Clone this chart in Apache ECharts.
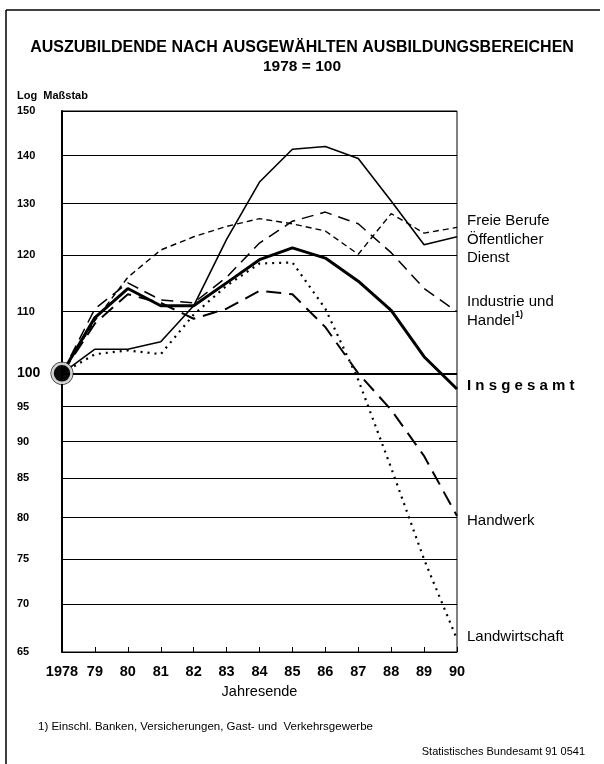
<!DOCTYPE html>
<html>
<head>
<meta charset="utf-8">
<script src="https://cdn.jsdelivr.net/npm/echarts@6.0.0/dist/echarts.min.js"></script>
<style>
  html, body { margin: 0; padding: 0; background: #fff; }
  #main { width: 604px; height: 764px; }
</style>
</head>
<body>
<div id="main"></div>
<script>
// Jahresende 1978..1990, Index 1978 = 100 (log. Maßstab)
const years = ['1978', '79', '80', '81', '82', '83', '84', '85', '86', '87', '88', '89', '90'];
const yTicks = [65, 70, 75, 80, 85, 90, 95, 100, 110, 120, 130, 140, 150];
const baseValue = 100;

const insgesamt = [100, 109, 114, 111, 111, 115, 119.2, 121.4, 119.5, 115.3, 110.2, 102.6, 97.6];
const freieBerufe = [100, 108.5, 116, 121, 123.5, 125.5, 127, 126, 124.6, 120.2, 128, 124.2, 125.3];
const oeffDienst = [100, 103.8, 103.8, 105, 111, 123, 134.4, 141.4, 142, 139.4, 130.5, 122, 123.5];
const industrieHandel = [100, 110.5, 115, 112, 111.5, 116, 122.3, 126.5, 128.3, 126, 120.5, 114, 110];
const handwerk = [100, 108, 113, 111.5, 108.8, 110.5, 113.6, 113, 107.4, 100, 94.5, 88, 80.2];
const landwirtschaft = [100, 103, 103.6, 103, 109.5, 114.5, 118.5, 118.7, 110.5, 99, 86.4, 75, 66.3];

const FONT = 'Liberation Sans, Arial, sans-serif';

let chart = echarts.init(document.getElementById('main'));

const lineSeries = (name, data, width, type) => ({
  name: name,
  type: 'line',
  data: data,
  symbol: 'none',
  lineStyle: { color: '#000', width: width, type: type },
  z: 3
});

// Beschriftung rechts neben dem Diagramm
const rightLabel = (text, y, x, extra) => ({
  type: 'text',
  x: x,
  y: y,
  style: Object.assign({
    text: text,
    fontFamily: FONT,
    fontSize: 15,
    fill: '#000',
    verticalAlign: 'middle'
  }, extra || {})
});

let option = {
  animation: false,
  backgroundColor: '#fff',
  title: [
    {
      text: 'AUSZUBILDENDE NACH AUSGEWÄHLTEN AUSBILDUNGSBEREICHEN',
      left: 'center',
      top: 35,
      textStyle: { fontFamily: FONT, fontSize: 16, fontWeight: 'bold', color: '#000' }
    },
    {
      text: '1978 = 100',
      left: 'center',
      top: 54,
      textStyle: { fontFamily: FONT, fontSize: 15.5, fontWeight: 'bold', color: '#000' }
    }
  ],
  grid: {
    left: 62, right: 147, top: 111, bottom: 112,
    show: true, borderColor: '#000', borderWidth: 1
  },
  xAxis: {
    type: 'category',
    data: years,
    boundaryGap: false,
    axisLine: { show: true, lineStyle: { color: '#000', width: 1 } },
    axisTick: { show: true, inside: true, length: 5, interval: 0, lineStyle: { color: '#000' } },
    axisLabel: {
      color: '#000', fontFamily: FONT, fontSize: 14.5, fontWeight: 'bold', margin: 12,
      interval: 0, hideOverlap: false
    },
    splitLine: { show: false },
    name: 'Jahresende',
    nameLocation: 'middle',
    nameGap: 32,
    nameTextStyle: { color: '#000', fontFamily: FONT, fontSize: 14.5 }
  },
  yAxis: {
    type: 'log',
    logBase: 10,
    min: 65,
    max: 150,
    axisLine: { show: true, lineStyle: { color: '#000', width: 2 } },
    axisTick: { show: false, customValues: yTicks },
    axisLabel: {
      customValues: yTicks,
      color: '#000',
      fontFamily: FONT,
      fontSize: 11,
      fontWeight: 'bold',
      align: 'left',
      margin: 45,
      formatter: (v) => (Math.round(v) === baseValue ? '{b|' + Math.round(v) + '}' : String(Math.round(v))),
      rich: { b: { fontSize: 14, fontWeight: 'bold', fontFamily: FONT, color: '#000' } }
    },
    splitLine: { show: true, lineStyle: { color: '#000', width: 1 } }
  },
  series: [
    Object.assign(lineSeries('Insgesamt', insgesamt, 3, 'solid'), {
      markLine: {
        silent: true,
        symbol: 'none',
        label: { show: false },
        lineStyle: { color: '#000', width: 2, type: 'solid' },
        data: [{ yAxis: baseValue }]
      }
    }),
    lineSeries('Freie Berufe', freieBerufe, 1.4, [6, 4]),
    lineSeries('Öffentlicher Dienst', oeffDienst, 1.6, 'solid'),
    lineSeries('Industrie und Handel', industrieHandel, 1.5, [12, 7]),
    lineSeries('Handwerk', handwerk, 2, [15, 8]),
    lineSeries('Landwirtschaft', landwirtschaft, 2.2, [2, 5]),
    {
      name: 'Basis-ring',
      type: 'scatter',
      clip: false,
      silent: true,
      data: [[years[0], baseValue]],
      symbolSize: 23,
      itemStyle: { color: '#000' },
      z: 5
    },
    {
      name: 'Basis',
      type: 'scatter',
      clip: false,
      silent: true,
      data: [[years[0], baseValue]],
      symbolSize: 19,
      itemStyle: { color: '#000', borderColor: '#fff', borderWidth: 2.5 },
      z: 6
    }
  ],
  graphic: [
    // Rahmen
    { type: 'line', shape: { x1: 6, y1: 10, x2: 600, y2: 10 }, style: { stroke: '#000', lineWidth: 1.5 } },
    { type: 'line', shape: { x1: 6, y1: 10, x2: 6, y2: 764 }, style: { stroke: '#000', lineWidth: 1.5 } },
    {
      type: 'text', x: 17, y: 96,
      style: { text: 'Log  Maßstab', fontFamily: FONT, fontSize: 11, fontWeight: 'bold', fill: '#000', verticalAlign: 'middle' }
    },
    rightLabel('Freie Berufe', 221, 467),
    rightLabel('Öffentlicher', 240, 467),
    rightLabel('Dienst', 258, 467),
    rightLabel('Industrie und', 302, 467),
    rightLabel('Handel', 321, 467),
    rightLabel('1)', 315, 515, { fontSize: 9, fontWeight: 'bold' }),
    rightLabel('I n s g e s a m t', 386, 467, { fontSize: 15, fontWeight: 'bold' }),
    rightLabel('Handwerk', 521, 467),
    rightLabel('Landwirtschaft', 637, 467),
    {
      type: 'text', x: 38, y: 727,
      style: { text: '1) Einschl. Banken, Versicherungen, Gast- und  Verkehrsgewerbe', fontFamily: FONT, fontSize: 11.5, fill: '#000', verticalAlign: 'middle' }
    },
    {
      type: 'text', x: 585, y: 752,
      style: { text: 'Statistisches Bundesamt 91 0541', fontFamily: FONT, fontSize: 11, fill: '#000', align: 'right', verticalAlign: 'middle' }
    }
  ]
};

chart.setOption(option);
</script>
</body>
</html>
